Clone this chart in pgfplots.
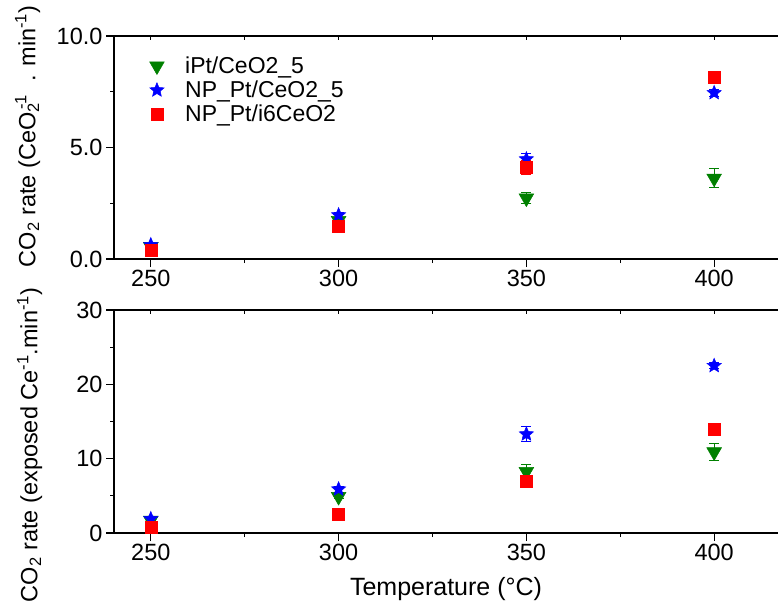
\documentclass[border=0pt]{standalone}
\usepackage{fontspec}
\setmainfont{Liberation Sans}
\usepackage{pgfplots}
\pgfplotsset{compat=1.18}

\definecolor{ogreen}{RGB}{0,128,0}
\definecolor{oblue}{RGB}{0,0,255}
\definecolor{ored}{RGB}{255,0,0}

% filled five-pointed star
\pgfdeclareplotmark{fstar}{%
  \pgfpathmoveto{\pgfpointpolar{90}{\pgfplotmarksize}}%
  \pgfpathlineto{\pgfpointpolar{126}{0.45\pgfplotmarksize}}%
  \pgfpathlineto{\pgfpointpolar{162}{\pgfplotmarksize}}%
  \pgfpathlineto{\pgfpointpolar{198}{0.45\pgfplotmarksize}}%
  \pgfpathlineto{\pgfpointpolar{234}{\pgfplotmarksize}}%
  \pgfpathlineto{\pgfpointpolar{270}{0.45\pgfplotmarksize}}%
  \pgfpathlineto{\pgfpointpolar{306}{\pgfplotmarksize}}%
  \pgfpathlineto{\pgfpointpolar{342}{0.45\pgfplotmarksize}}%
  \pgfpathlineto{\pgfpointpolar{18}{\pgfplotmarksize}}%
  \pgfpathlineto{\pgfpointpolar{54}{0.45\pgfplotmarksize}}%
  \pgfpathclose
  \pgfusepathqfillstroke
}

\pgfplotsset{
  panel/.style={
    scale only axis, width=664pt, height=223pt,
    xmin=240.2, xmax=417,
    axis x line*=bottom, axis y line*=left,
    axis line style={line width=1.4pt,-},
    tick align=outside,
    major tick length=8pt, minor tick length=4pt,
    every tick/.style={black, line width=1.2pt},
    xtick={250,300,350,400}, minor xtick={275,325,375},
    tick label style={font=\fontsize{23.5}{27}\selectfont},
    /pgf/number format/assume math mode=true,
    label style={font=\fontsize{23.5}{27}\selectfont},
    clip=false,
    error bars/y dir=both, error bars/y explicit,
    error bars/error bar style={line width=1pt},
    error bars/error mark options={rotate=90, mark size=5pt, line width=1pt},
  },
  topline/.style={
    scale only axis, width=664pt, height=223pt,
    xmin=240.2, xmax=417, ymin=0, ymax=1,
    axis x line*=top, axis y line=none,
    axis line style={line width=1.4pt,-},
    tick align=inside, major tick length=4pt, minor tick length=4pt,
    every tick/.style={black, line width=1.2pt},
    xtick={250,300,350,400}, minor xtick={275,325,375},
    xticklabels={},
  },
  sg/.style={only marks, color=ogreen, mark=triangle*, mark size=8.5pt,
    mark options={rotate=180, line width=0.5pt}},
  sb/.style={only marks, color=oblue, mark=fstar, mark size=7.5pt,
    mark options={line width=0.5pt}},
  sr/.style={only marks, color=ored, mark=square*, mark size=6pt,
    mark options={line width=0.5pt}},
}

\begin{document}
\begin{tikzpicture}
\path[use as bounding box] (0,-603pt) rectangle (778pt,0);

% upper panel: rate per CeO2
\begin{axis}[panel, at={(114pt,-259pt)}, anchor=south west,
  ymin=0, ymax=10, ytick={0,5,10}, minor ytick={2.5,7.5},
  yticklabel style={/pgf/number format/.cd, fixed, fixed zerofill, precision=1},
  ylabel={CO\textsubscript{2} rate (CeO\textsubscript{2}\kern-0.3em\textsuperscript{-1}\ \ . min\textsuperscript{-1})},
  ylabel style={at={(axis description cs:-0.13,0.55)}, anchor=center},
  legend style={draw=none, fill=none, at={(axis description cs:0.046,0.925)},
    anchor=north west, font=\fontsize{23}{26}\selectfont, row sep=2pt,
    inner sep=2pt},
  legend cell align=left,
  legend image code/.code={%
    \path (0pt,-8pt) (36pt,8pt);
    \draw[mark repeat=2, mark phase=2, #1] plot coordinates {(0pt,0pt) (10pt,0pt) (36pt,0pt)};},
]
\addplot[sg] coordinates {
  (250,0.55) +- (0,0.05)
  (300,1.72) +- (0,0.10)
  (350,2.73) +- (0,0.25)
  (400,3.62) +- (0,0.42)
};
\addlegendentry{iPt/CeO2\_5}
\addplot[sb] coordinates {
  (250,0.63) +- (0,0.05)
  (300,1.97) +- (0,0.10)
  (350,4.48) +- (0,0.27)
  (400,7.45) +- (0,0.15)
};
\addlegendentry{NP\_Pt/CeO2\_5}
\addplot[sr] coordinates {
  (250,0.38) +- (0,0.05)
  (300,1.48) +- (0,0.08)
  (350,4.10) +- (0,0.30)
  (400,8.15) +- (0,0.10)
};
\addlegendentry{NP\_Pt/i6CeO2}
\end{axis}
\begin{axis}[topline, at={(114pt,-259pt)}, anchor=south west]
\end{axis}
\draw[line width=1.4pt] (106pt,-259pt) -- (114pt,-259pt);
\draw[line width=1.4pt] (106pt,-36pt) -- (114pt,-36pt);

% lower panel: rate per exposed Ce
\begin{axis}[panel, at={(114pt,-533pt)}, anchor=south west,
  ymin=0, ymax=30, ytick={0,10,20,30}, minor ytick={5,15,25},
  ylabel={CO\textsubscript{2} rate (exposed Ce\textsuperscript{-1}.min\textsuperscript{-1})},
  ylabel style={at={(axis description cs:-0.127,0.395)}, anchor=center},
  xlabel={Temperature (°C)},
  xlabel style={font=\fontsize{25}{29}\selectfont, at={(axis description cs:0.5,-0.28)}, anchor=base},
]
\addplot[sg] coordinates {
  (250,1.70) +- (0,0.15)
  (300,4.90) +- (0,0.30)
  (350,8.25) +- (0,0.90)
  (400,10.9) +- (0,1.20)
};
\addplot[sb] coordinates {
  (250,1.90) +- (0,0.15)
  (300,5.90) +- (0,0.40)
  (350,13.3) +- (0,1.00)
  (400,22.5) +- (0,0.40)
};
\addplot[sr] coordinates {
  (250,0.80) +- (0,0.10)
  (300,2.55) +- (0,0.15)
  (350,7.00) +- (0,0.30)
  (400,14.0) +- (0,0.30)
};
\end{axis}
\begin{axis}[topline, at={(114pt,-533pt)}, anchor=south west]
\end{axis}
\draw[line width=1.4pt] (106pt,-533pt) -- (114pt,-533pt);
\draw[line width=1.4pt] (106pt,-310pt) -- (114pt,-310pt);
\end{tikzpicture}
\end{document}
